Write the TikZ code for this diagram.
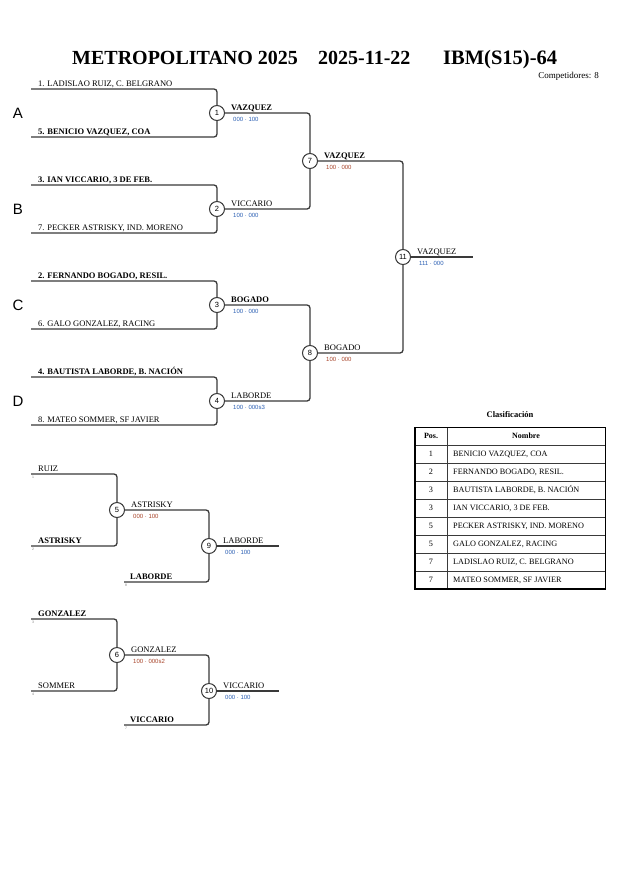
\documentclass[tikz,border=0pt]{standalone}
\usepackage{fontspec}
\setmainfont{Liberation Serif}
\newfontfamily\sansf{Liberation Sans}
\definecolor{ln}{HTML}{3A3A3A}
\definecolor{sblue}{HTML}{2B5FB3}
\definecolor{sred}{HTML}{A8442A}
\begin{document}
\begin{tikzpicture}[x=1pt,y=-1pt,
 br/.style={draw=ln, line width=1.3pt, rounded corners=3pt},
 mt/.style={circle, draw=ln, line width=1pt, fill=white, minimum size=15pt, inner sep=0pt, font=\sansf\fontsize{7.5}{7.5}\selectfont},
 nm/.style={anchor=base west, inner sep=0pt, font=\fontsize{8.5}{8.5}\selectfont},
 nmb/.style={anchor=base west, inner sep=0pt, font=\bfseries\fontsize{8.5}{8.5}\selectfont},
 scb/.style={anchor=west, inner sep=0pt, text=sblue, font=\sansf\fontsize{6}{6}\selectfont},
 scr/.style={anchor=west, inner sep=0pt, text=sred, font=\sansf\fontsize{6}{6}\selectfont},
 grp/.style={font=\sansf\fontsize{15}{15}\selectfont, inner sep=0pt},
 tinyn/.style={anchor=north west, inner sep=0pt, font=\sansf\fontsize{3.5}{3.5}\selectfont, text=gray},
 cell/.style={inner sep=0pt, font=\fontsize{8.2}{8.2}\selectfont},
 tl/.style={draw=ln, line width=0.6pt}]
\useasboundingbox (0,0) rectangle (630,891);
\fill[white] (0,0) rectangle (630,891);
% title
\node[anchor=base west, inner sep=0pt, font=\bfseries\fontsize{20}{20}\selectfont] (t1) at (72,64) {METROPOLITANO 2025};
\node[anchor=base west, inner sep=0pt, font=\bfseries\fontsize{20}{20}\selectfont] (t2) at (318,64) {2025-11-22};
\node[anchor=base west, inner sep=0pt, font=\bfseries\fontsize{20.5}{20.5}\selectfont] (t3) at (443,64) {IBM(S15)-64};
\node[anchor=base east, inner sep=0pt, font=\fontsize{9}{9}\selectfont] (comp) at (599,78) {Competidores: 8};
% group letters
\node[grp] (gA) at (18,113) {A};
\node[grp] (gB) at (18,209) {B};
\node[grp] (gC) at (18,305) {C};
\node[grp] (gD) at (18,401) {D};
% match circles
\node[mt] (m1) at (217,113) {1};
\node[mt] (m2) at (217,209) {2};
\node[mt] (m3) at (217,305) {3};
\node[mt] (m4) at (217,401) {4};
\node[mt] (m7) at (310,161) {7};
\node[mt] (m8) at (310,353) {8};
\node[mt] (m11) at (403,257) {11};
\node[mt] (m5) at (117,510) {5};
\node[mt] (m9) at (209,546) {9};
\node[mt] (m6) at (117,655) {6};
\node[mt] (m10) at (209,691) {10};
% line ends
\coordinate (e1) at (31,89);  \coordinate (e5) at (31,137);
\coordinate (e3) at (31,185); \coordinate (e7) at (31,233);
\coordinate (e2) at (31,281); \coordinate (e6) at (31,329);
\coordinate (e4) at (31,377); \coordinate (e8) at (31,425);
\coordinate (r1) at (31,474); \coordinate (r2) at (31,546); \coordinate (r3) at (124,582);
\coordinate (r4) at (31,619); \coordinate (r5) at (31,691); \coordinate (r6) at (124,725);
\coordinate (f11) at (473,257); \coordinate (f9) at (279,546); \coordinate (f10) at (279,691);
% connectors
\draw[br] (e1) -| (m1); \draw[br] (e5) -| (m1);
\draw[br] (e3) -| (m2); \draw[br] (e7) -| (m2);
\draw[br] (e2) -| (m3); \draw[br] (e6) -| (m3);
\draw[br] (e4) -| (m4); \draw[br] (e8) -| (m4);
\draw[br] (m1) -| (m7); \draw[br] (m2) -| (m7);
\draw[br] (m3) -| (m8); \draw[br] (m4) -| (m8);
\draw[br] (m7) -| (m11); \draw[br] (m8) -| (m11);
\draw[br] (m11) -- (f11);
\draw[br] (r1) -| (m5); \draw[br] (r2) -| (m5);
\draw[br] (m5) -| (m9); \draw[br] (r3) -| (m9);
\draw[br] (m9) -- (f9);
\draw[br] (r4) -| (m6); \draw[br] (r5) -| (m6);
\draw[br] (m6) -| (m10); \draw[br] (r6) -| (m10);
\draw[br] (m10) -- (f10);
% entry labels
\node[nm]  (n1) at (38,86)  {1. LADISLAO RUIZ, C. BELGRANO};
\node[nmb] (n5) at (38,134) {5. BENICIO VAZQUEZ, COA};
\node[nmb] (n3) at (38,182) {3. IAN VICCARIO, 3 DE FEB.};
\node[nm]  (n7) at (38,230) {7. PECKER ASTRISKY, IND. MORENO};
\node[nmb] (n2) at (38,278) {2. FERNANDO BOGADO, RESIL.};
\node[nm]  (n6) at (38,326) {6. GALO GONZALEZ, RACING};
\node[nmb] (n4) at (38,374) {4. BAUTISTA LABORDE, B. NACIÓN};
\node[nm]  (n8) at (38,422) {8. MATEO SOMMER, SF JAVIER};
% winners and scores
\node[nmb] (w1) at (231,110) {VAZQUEZ};  \node[scb] (s1) at (233,119) {000 · 100};
\node[nm]  (w2) at (231,206) {VICCARIO}; \node[scb] (s2) at (233,215) {100 · 000};
\node[nmb] (w3) at (231,302) {BOGADO};   \node[scb] (s3) at (233,311) {100 · 000};
\node[nm]  (w4) at (231,398) {LABORDE};  \node[scb] (s4) at (233,407) {100 · 000s3};
\node[nmb] (w7) at (324,158) {VAZQUEZ};  \node[scr] (s7) at (326,167) {100 · 000};
\node[nm]  (w8) at (324,350) {BOGADO};   \node[scr] (s8) at (326,359) {100 · 000};
\node[nm]  (w11) at (417,254) {VAZQUEZ}; \node[scb] (s11) at (419,263) {111 · 000};
% repechage
\node[nm]  (q1) at (38,471) {RUIZ};      \node[tinyn] (k1) at (32,476) {1};
\node[nmb] (q2) at (38,543) {ASTRISKY};  \node[tinyn] (k2) at (32,548) {2};
\node[nmb] (q3) at (130,579) {LABORDE};  \node[tinyn] (k3) at (125,584) {8};
\node[nm]  (w5) at (131,507) {ASTRISKY}; \node[scr] (s5) at (133,516) {000 · 100};
\node[nm]  (w9) at (223,543) {LABORDE};  \node[scb] (s9) at (225,552) {000 · 100};
\node[nmb] (q4) at (38,616) {GONZALEZ};  \node[tinyn] (k4) at (32,621) {3};
\node[nm]  (q5) at (38,688) {SOMMER};    \node[tinyn] (k5) at (32,693) {4};
\node[nmb] (q6) at (130,722) {VICCARIO}; \node[tinyn] (k6) at (125,727) {7};
\node[nm]  (w6) at (131,652) {GONZALEZ}; \node[scr] (s6) at (133,661) {100 · 000s2};
\node[nm]  (w10) at (223,688) {VICCARIO}; \node[scb] (s10) at (225,697) {000 · 100};
% classification table
\node[inner sep=0pt, font=\bfseries\fontsize{8.5}{8.5}\selectfont] (ctit) at (510,415) {Clasificación};
\foreach \k in {1,...,8} \draw[tl] (415,{445+18*(\k-1)}) -- (605.5,{445+18*(\k-1)});
\draw[tl] (447,427.5) -- (447,589);
\draw[draw=black, line width=1.5pt] (415,427.5) rectangle (605.5,589);
\node[cell, font=\bfseries\fontsize{8}{8}\selectfont] (hpos) at (431,436) {Pos.};
\node[cell, font=\bfseries\fontsize{8}{8}\selectfont] (hnom) at (526,436) {Nombre};
\foreach \i/\p/\n in {1/1/{BENICIO VAZQUEZ, COA},2/2/{FERNANDO BOGADO, RESIL.},3/3/{BAUTISTA LABORDE, B. NACIÓN},4/3/{IAN VICCARIO, 3 DE FEB.},5/5/{PECKER ASTRISKY, IND. MORENO},6/5/{GALO GONZALEZ, RACING},7/7/{LADISLAO RUIZ, C. BELGRANO},8/7/{MATEO SOMMER, SF JAVIER}}{
  \node[cell] (pos\i) at (431,{454+18*(\i-1)}) {\p};
  \node[cell, anchor=west] (nom\i) at (453,{454+18*(\i-1)}) {\n};
}
\end{tikzpicture}
\end{document}
